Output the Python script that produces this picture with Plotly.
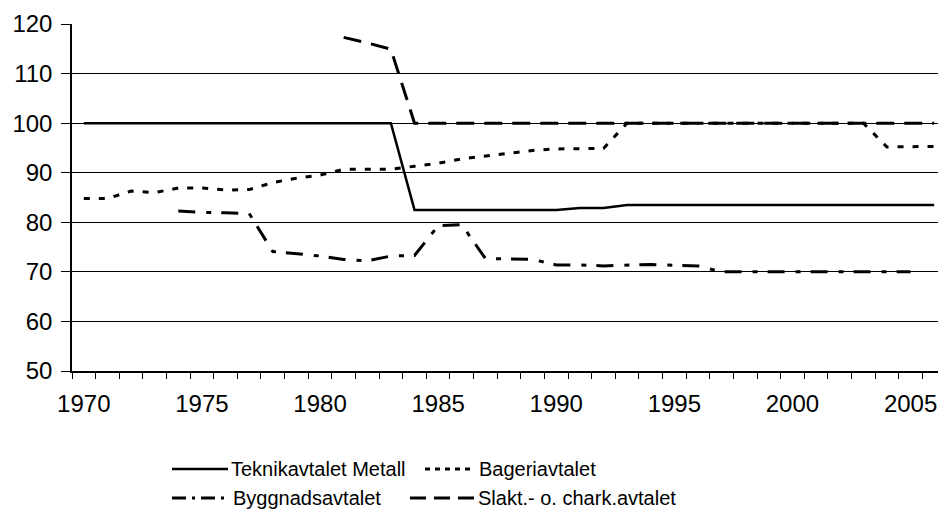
import plotly.graph_objects as go

years = [1970, 1971, 1972, 1973, 1974, 1975, 1976, 1977, 1978, 1979,
         1980, 1981, 1982, 1983, 1984, 1985, 1986, 1987, 1988, 1989,
         1990, 1991, 1992, 1993, 1994, 1995, 1996, 1997, 1998, 1999,
         2000, 2001, 2002, 2003, 2004, 2005, 2006]

teknik = [100, 100, 100, 100, 100, 100, 100, 100, 100, 100,
          100, 100, 100, 100, 82.5, 82.5, 82.5, 82.5, 82.5, 82.5,
          82.5, 82.9, 82.9, 83.5, 83.5, 83.5, 83.5, 83.5, 83.5, 83.5,
          83.5, 83.5, 83.5, 83.5, 83.5, 83.5, 83.5]

bageri = [84.8, 84.8, 86.3, 86.0, 86.9, 86.9, 86.5, 86.6, 88.0, 88.9,
          89.5, 90.7, 90.7, 90.7, 91.3, 91.9, 92.8, 93.4, 94.0, 94.5,
          94.8, 94.9, 94.9, 100, 100, 100, 100, 100, 100, 100,
          100, 100, 100, 100, 95.2, 95.3, 95.3]

byggnad = [None, None, None, None, 82.3, 82.0, 81.9, 81.8, 74.1, 73.7,
           73.2, 72.5, 72.2, 73.2, 73.3, 79.3, 79.5, 72.7, 72.6, 72.5,
           71.4, 71.4, 71.2, 71.3, 71.5, 71.3, 71.2, 70.0, 70.0, 70.0,
           70.0, 70.0, 70.0, 70.0, 70.0, 70.0, None]

slakt = [None, None, None, None, None, None, None, None, None, None,
         None, 117.3, 116.2, 114.9, 100, 100, 100, 100, 100, 100,
         100, 100, 100, 100, 100, 100, 100, 100, 100, 100,
         100, 100, 100, 100, 100, 100, 100]

names = ["Teknikavtalet Metall", "Bageriavtalet",
         "Byggnadsavtalet", "Slakt.- o. chark.avtalet"]
xtick_years = [1970, 1975, 1980, 1985, 1990, 1995, 2000, 2005]
ytick_vals = [50, 60, 70, 80, 90, 100, 110, 120]

# line styles (width, dash)
styles = [(2.5, "solid"), (3, "6px,9px"), (3, "17px,11px,5px,10px"), (3, "18px,10px")]

# page has an 8px body margin, so the figure is a bit smaller than the window
OFF = 8
W, H = 938, 507
L, R, T, B = 64, 0, 16, 144
FONT = "Liberation Sans, Arial, sans-serif"

fig = go.Figure()
for name, vals, (w, d) in zip(names, [teknik, bageri, byggnad, slakt], styles):
    fig.add_trace(go.Scatter(x=years, y=vals, mode="lines", name=name,
                             line=dict(color="black", width=w, dash=d),
                             connectgaps=False, showlegend=False))


def px(x):
    return (x - OFF - L) / (W - L - R)


def py(y):
    return (H - B - (y - OFF)) / (H - T - B)


# legend drawn by hand: 2 x 2 grid like the original (page pixels)
leg = [(172, 228, 230, 469), (425, 470, 478, 469),
       (172, 228, 232, 498), (410, 475, 477, 498)]
leg_dash = ["solid", "5px,5px", "14px,6px,3px,6px", "16px,8px"]
for (x0, x1, xt, yc), name, (w, _), d in zip(leg, names, styles, leg_dash):
    fig.add_shape(type="line", xref="paper", yref="paper",
                  x0=px(x0), x1=px(x1), y0=py(yc), y1=py(yc),
                  line=dict(color="black", width=w, dash=d))
    fig.add_annotation(x=px(xt), y=py(yc), xref="paper", yref="paper",
                       text=name, showarrow=False, xanchor="left",
                       yanchor="middle", borderpad=0,
                       font=dict(size=20, color="black"))

fig.update_xaxes(range=[1969.5, 2006.5], tickvals=xtick_years,
                 ticks="", showgrid=False, showline=True,
                 linecolor="black", linewidth=1.5, zeroline=False,
                 ticklabelstandoff=10, automargin=False,
                 minor=dict(tick0=1969.5, dtick=1, ticks="outside",
                            ticklen=6, tickcolor="black", showgrid=False),
                 tickfont=dict(size=24, color="black"))
fig.update_yaxes(range=[50, 120], tickvals=ytick_vals, ticks="outside",
                 ticklen=9, tickcolor="black", showgrid=True,
                 gridcolor="black", gridwidth=1, showline=True,
                 linecolor="black", linewidth=1.5, zeroline=False,
                 ticklabelstandoff=4, automargin=False,
                 tickfont=dict(size=24, color="black"))

fig.update_layout(width=W, height=H, autosize=False,
                  margin=dict(l=L, r=R, t=T, b=B),
                  plot_bgcolor="white", paper_bgcolor="white",
                  font=dict(family=FONT, color="black"))

fig.write_html("out.html")
